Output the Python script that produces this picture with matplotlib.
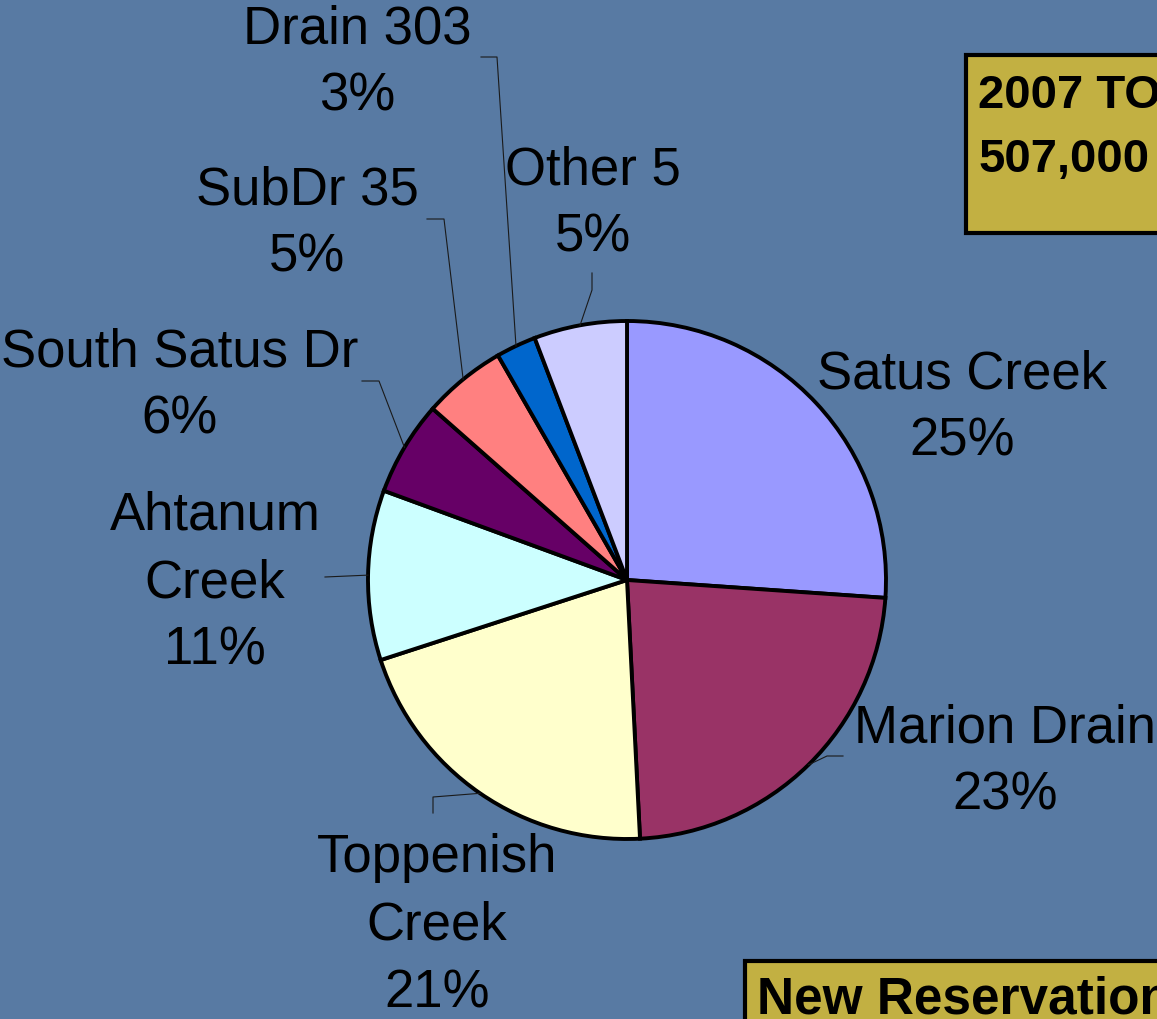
import matplotlib
matplotlib.use("Agg")
from matplotlib import pyplot as plt
from matplotlib.patches import Rectangle
import numpy as np

# slice shares and the printed labels
names = ["Satus Creek", "Marion Drain", "Toppenish\nCreek", "Ahtanum\nCreek",
         "South Satus Dr", "SubDr 35", "Drain 303", "Other 5"]
shares = [26.1, 23.1, 20.8, 10.6, 5.9, 5.2, 2.5, 5.8]
pct_labels = ["25%", "23%", "21%", "11%", "6%", "5%", "3%", "5%"]
colors = ["#9999FF", "#993366", "#FFFFCC", "#CCFFFF",
          "#660066", "#FF8080", "#0066CC", "#CCCCFF"]

W, H = 1157, 1019
cx, cy, rad = 627, 580, 259

# label centre (px, y down) and leader elbow points from the rim outwards
label_pos = [(962, 408), (1005, 762), (437, 926), (215, 583),
             (180, 386), (307, 224), (357, 63), (593, 204)]
elbows = [[], [(827, 756), (843, 756)], [(433, 797), (433, 813)], [(325, 577)],
          [(379, 381), (362, 381)], [(444, 219), (427, 219)],
          [(497, 57), (481, 57)], [(592, 290), (592, 273)]]


def py(y):
    return H - y


plt.rcParams['font.family'] = ['Liberation Sans', 'DejaVu Sans']

fig = plt.figure(figsize=(W / 100, H / 100), dpi=100)
fig.patch.set_facecolor("#587aa3")
ax = fig.add_axes([0, 0, 1, 1])
ax.set_facecolor("#587aa3")

wedges, _ = ax.pie(shares, colors=colors, startangle=90, counterclock=False,
                   center=(cx, py(cy)), radius=rad,
                   wedgeprops=dict(edgecolor="black", linewidth=2.8))

ax.set_xlim(0, W)
ax.set_ylim(0, H)
ax.set_aspect("equal")
ax.axis("off")

for w, name, pct, (lx, ly), pts in zip(wedges, names, pct_labels, label_pos, elbows):
    mid = np.deg2rad((w.theta1 + w.theta2) / 2)
    ax_x = cx + rad * np.cos(mid)
    ax_y = py(cy) + rad * np.sin(mid)
    if pts:
        xs = [ax_x] + [p[0] for p in pts]
        ys = [ax_y] + [py(p[1]) for p in pts]
        ax.plot(xs, ys, color="#1a1a1a", lw=0.8)
    ax.text(lx, py(ly), name + "\n" + pct, ha="center", va="center",
            fontsize=38, linespacing=1.46, color="black")

# gold callout boxes, running off the right / bottom edge
ax.add_patch(Rectangle((966, py(233)), 300, 178, facecolor="#C2B042",
                       edgecolor="black", lw=3))
ax.text(978, py(108), "2007 TO", fontsize=34, fontweight="bold",
        ha="left", va="baseline", clip_on=True)
ax.text(978, py(172), "507,000", fontsize=34, fontweight="bold",
        ha="left", va="baseline", clip_on=True)

ax.add_patch(Rectangle((745, py(1100)), 500, 139, facecolor="#C2B042",
                       edgecolor="black", lw=3))
ax.text(757, py(1013), "New Reservation", fontsize=37, fontweight="bold",
        ha="left", va="baseline", clip_on=True)

fig.savefig("out.png", dpi=100, facecolor=fig.get_facecolor())
